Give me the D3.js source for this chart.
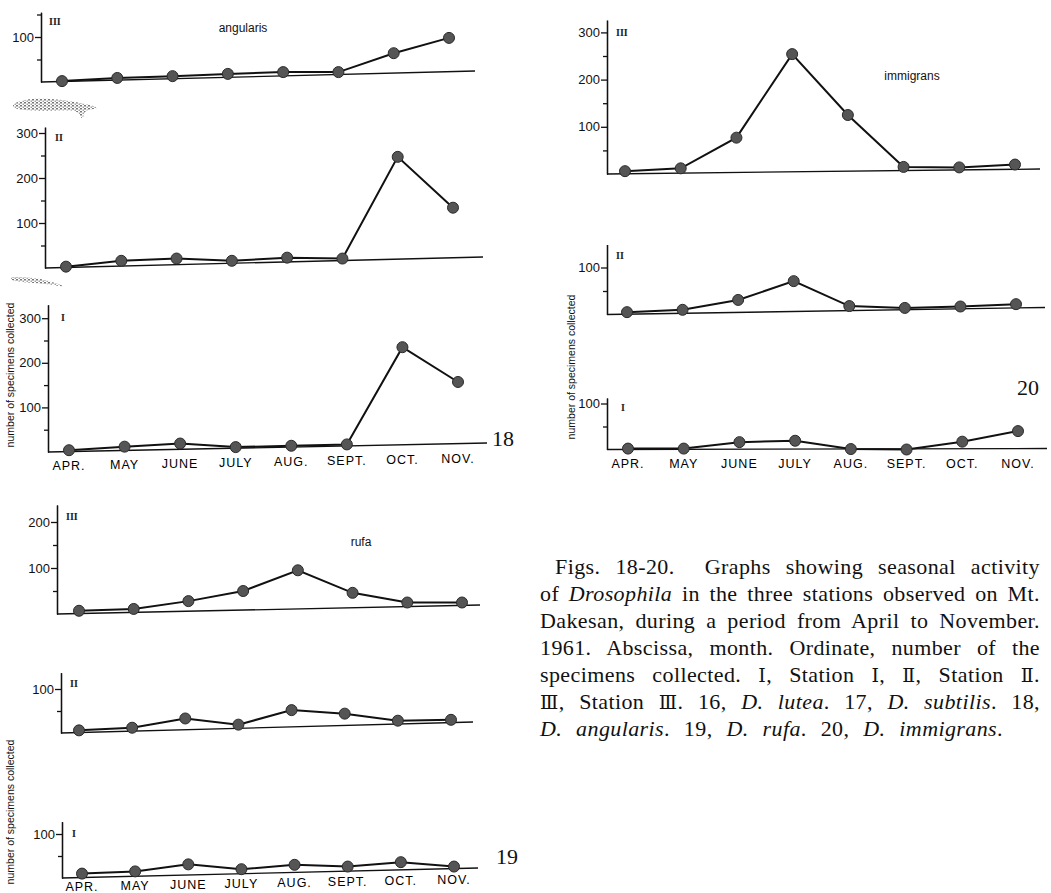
<!doctype html>
<html>
<head>
<meta charset="UTF-8">
<title>Seasonal activity of Drosophila, Figs. 18-20</title>
<script src="https://cdn.jsdelivr.net/npm/d3@7"></script>
<style>
  body { margin: 0; background: #fff; }
  .tick text { font-family: "Liberation Sans Narrow", "Liberation Sans", Arial, sans-serif; font-size: 13px; fill: #111; }
  .domain, .tick line { stroke: #111; stroke-width: 1.3; }
</style>
</head>
<body>
<svg id="chart" width="1051" height="893"></svg>
<script>
const months = ["APR.", "MAY", "JUNE", "JULY", "AUG.", "SEPT.", "OCT.", "NOV."];

// Fig. 18, D. angularis (stations III, II, I)
const angularisIII = [2, 9, 13, 18, 22, 22, 64, 98];
const angularisII = [3, 16, 21, 16, 23, 21, 247, 134];
const angularisI = [4, 12, 19, 11, 14, 17, 235, 157];

// Fig. 19, D. rufa
const rufaIII = [7, 11, 28, 50, 95, 46, 25, 25];
const rufaII = [6, 12, 33, 19, 52, 44, 28, 30];
const rufaI = [10, 15, 31, 20, 30, 26, 36, 26];

// Fig. 20, D. immigrans
const immigransIII = [6, 12, 77, 254, 125, 15, 14, 20];
const immigransII = [5, 10, 31, 71, 18, 14, 17, 22];
const immigransI = [2, 2, 16, 19, 1, 0, 17, 40];

const ticks300 = [100, 200, 300];
const ticks200 = [100, 200];
const ticks100 = [100];

const yTitle = "number of specimens collected";

// layout of every small graph on the page
const panels = [
  {data: angularisIII, st: "III", ticks: ticks100, ax: 41, y0: 82, k: 45, top: 155, x0: 62, x1: 449, end: 475, rise: 11, sx: 49, sy: 25},
  {data: angularisII, st: "II", ticks: ticks300, ax: 45, y0: 268, k: 45, top: 313, x0: 66, x1: 453, end: 483, rise: 11, sx: 55, sy: 141},
  {data: angularisI, st: "I", ticks: ticks300, ax: 48, y0: 452, k: 44.6, top: 330, x0: 69, x1: 458, end: 487, rise: 9, sx: 61, sy: 321, lab: [469.5, 462.5]},
  {data: rufaIII, st: "III", ticks: ticks200, ax: 57, y0: 614, k: 46, top: 237, x0: 79, x1: 462, end: 480, rise: 9, sx: 66, sy: 520},
  {data: rufaII, st: "II", ticks: ticks100, ax: 61, y0: 733, k: 44, top: 137, x0: 79, x1: 451, end: 473, rise: 11, sx: 70, sy: 687},
  {data: rufaI, st: "I", ticks: ticks100, ax: 62, y0: 878, k: 44, top: 128, x0: 82, x1: 454, end: 478, rise: 10, sx: 72, sy: 837, lab: [891, 884]},
  {data: immigransIII, st: "III", ticks: ticks300, ax: 607, y0: 174, k: 47.2, top: 326, x0: 625, x1: 1015, end: 1040, rise: 5, sx: 616, sy: 36},
  {data: immigransII, st: "II", ticks: ticks100, ax: 607, y0: 314.5, k: 47, top: 149, x0: 627, x1: 1016, end: 1045, rise: 7, sx: 616, sy: 259},
  {data: immigransI, st: "I", ticks: ticks100, ax: 607, y0: 449.5, k: 46, top: 112, x0: 628, x1: 1018, end: 1047, rise: 1, sx: 621, sy: 411, lab: [467.5, 467.5]}
];

const svg = d3.select("#chart");

// grey speckled smudges left on the scanned page
const pat = svg.append("defs").append("pattern")
  .attr("id", "speck")
  .attr("patternUnits", "userSpaceOnUse")
  .attr("width", 4).attr("height", 3);
pat.append("rect").attr("width", 2).attr("height", 1.5).attr("fill", "#555");
pat.append("rect").attr("x", 2.5).attr("y", 1.5).attr("width", 1.5).attr("height", 1.5).attr("fill", "#888");

const smudges = [
  [[14, 104], [32, 99], [62, 100], [96, 107], [86, 111], [82, 118], [74, 111], [40, 111], [18, 109]],
  [[14, 277], [40, 279], [63, 286], [45, 284], [15, 281]]
];
svg.selectAll(".smudge")
  .data(smudges)
  .join("path")
  .attr("d", d => d3.line().curve(d3.curveCardinalClosed)(d))
  .attr("fill", "url(#speck)")
  .attr("opacity", 0.8);

for (const p of panels) {
  const g = svg.append("g");
  const x = d3.scalePoint().domain(months).range([p.x0, p.x1]);
  const y = d3.scaleLinear().domain([0, p.top]).range([p.y0, p.y0 - p.k * p.top / 100]);
  const minor = d3.range(50, p.top, 100);

  g.append("g")
    .attr("transform", `translate(${p.ax},0)`)
    .call(d3.axisLeft(y).tickValues(minor).tickSizeInner(4).tickSizeOuter(0).tickFormat(""));
  g.append("g")
    .attr("transform", `translate(${p.ax},0)`)
    .call(d3.axisLeft(y).tickValues(p.ticks).tickSizeInner(6).tickSizeOuter(0).tickPadding(1));

  // the drawn abscissa is not quite level
  g.append("line")
    .attr("x1", p.ax).attr("y1", y(0))
    .attr("x2", p.end).attr("y2", y(0) - p.rise)
    .attr("stroke", "#111").attr("stroke-width", 1.3);

  g.append("path")
    .datum(p.data)
    .attr("fill", "none")
    .attr("stroke", "#111")
    .attr("stroke-width", 2)
    .attr("d", d3.line().x((d, i) => x(months[i])).y(d => y(d)));

  g.selectAll("circle")
    .data(p.data)
    .join("circle")
    .attr("cx", (d, i) => x(months[i]))
    .attr("cy", d => y(d))
    .attr("r", 5.5)
    .attr("fill", "#555")
    .attr("stroke", "#2a2a2a")
    .attr("stroke-width", 1);

  g.append("text")
    .attr("x", p.sx).attr("y", p.sy)
    .style("font-family", "Liberation Serif, serif")
    .style("font-size", "10px")
    .style("font-weight", "bold")
    .style("fill", "#222")
    .text(p.st);

  if (p.lab) {
    const ly = d3.scaleLinear().domain([p.x0, p.x1]).range(p.lab);
    g.selectAll(".month")
      .data(months)
      .join("text")
      .attr("class", "month")
      .attr("x", d => x(d))
      .attr("y", d => ly(x(d)))
      .attr("text-anchor", "middle")
      .style("font-family", "Liberation Sans, Arial, sans-serif")
      .style("font-size", "12.5px")
      .style("letter-spacing", "1px")
      .style("fill", "#000")
      .text(d => d);
  }
}

// species names
const species = [["angularis", 243, 32], ["rufa", 361, 546], ["immigrans", 912, 80]];
svg.selectAll(".species")
  .data(species)
  .join("text")
  .attr("x", d => d[1]).attr("y", d => d[2])
  .attr("text-anchor", "middle")
  .style("font-family", "Liberation Sans, Arial, sans-serif")
  .style("font-size", "12px")
  .style("fill", "#111")
  .text(d => d[0]);

// figure numbers
const figNums = [["18", 492, 446], ["19", 496, 864], ["20", 1017, 395]];
svg.selectAll(".fignum")
  .data(figNums)
  .join("text")
  .attr("x", d => d[1]).attr("y", d => d[2])
  .style("font-family", "Liberation Serif, serif")
  .style("font-size", "22px")
  .style("fill", "#111")
  .text(d => d[0]);

// ordinate titles
const titles = [[14, 375], [14, 812], [575, 367]];
svg.selectAll(".ytitle")
  .data(titles)
  .join("text")
  .attr("transform", d => `translate(${d[0]},${d[1]}) rotate(-90)`)
  .attr("text-anchor", "middle")
  .style("font-family", "Liberation Sans, Arial, sans-serif")
  .style("font-size", "10.5px")
  .style("fill", "#111")
  .text(yTitle);

// caption, each line as [text, style] pieces: n normal, i italic, r roman numeral
const caption = [
  [["Figs. 18-20.  Graphs showing seasonal activity", "n"]],
  [["of ", "n"], ["Drosophila", "i"], [" in the three stations observed on Mt.", "n"]],
  [["Dakesan, during a period from April to November.", "n"]],
  [["1961. Abscissa, month. Ordinate, number of the", "n"]],
  [["specimens collected. ", "n"], ["\u2160", "r"], [", Station ", "n"], ["\u2160", "r"], [", ", "n"], ["\u2161", "r"], [", Station ", "n"], ["\u2161", "r"], [".", "n"]],
  [["\u2162", "r"], [", Station ", "n"], ["\u2162", "r"], [". 16, ", "n"], ["D. lutea", "i"], [". 17, ", "n"], ["D. subtilis", "i"], [". 18,", "n"]],
  [["D. angularis", "i"], [". 19, ", "n"], ["D. rufa", "i"], [". 20, ", "n"], ["D. immigrans", "i"], [".", "n"]]
];

caption.forEach((line, i) => {
  const left = i === 0 ? 555 : 540;
  const right = i === caption.length - 1 ? 1003 : 1040;
  const t = svg.append("text")
    .attr("x", left)
    .attr("y", 574 + i * 27)
    .attr("xml:space", "preserve")
    .style("font-family", "Liberation Serif, 'Times New Roman', serif")
    .style("font-size", "22px")
    .style("letter-spacing", "0.4px")
    .style("fill", "#111");
  for (const [s, st] of line) {
    t.append("tspan")
      .style("font-style", st === "i" ? "italic" : "normal")
      .style("font-family", st === "r" ? "DejaVu Serif, serif" : null)
      .style("font-size", st === "r" ? "19px" : null)
      .text(s);
  }
  // justify by widening the word gaps
  const text = line.map(d => d[0]).join("");
  const gaps = (text.match(/ /g) || []).length;
  const extra = (right - left) - t.node().getComputedTextLength();
  t.style("word-spacing", `${extra / gaps}px`);
});
</script>
</body>
</html>
